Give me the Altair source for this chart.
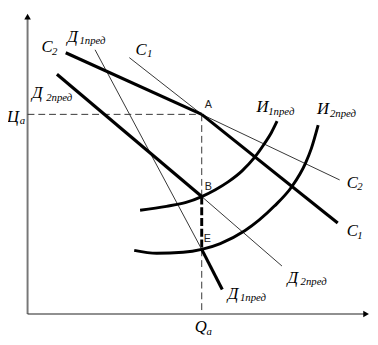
import altair as alt
import pandas as pd

# Schematic coordinates (origin at the axes' corner)
Q_A = 178
P_A, P_B, P_E = 204, 120, 66

# line segments: name -> (q values, p values)
thick_segments = {
    "C2_upper": ([39, 178], [267, 204]),
    "C1_lower": ([178, 317], [204, 93]),
    "D2_upper": ([30, 178], [245, 120]),
    "D1_lower": ([178, 199], [66, 25]),
}
thin_segments = {
    "C2_lower": ([178, 319], [204, 137]),
    "C1_upper": ([104, 178], [262, 204]),
    "D2_lower": ([178, 260], [120, 49]),
    "D1_upper": ([69, 178], [270, 66]),
}
I1_Q = [115, 142, 162, 178, 192, 205, 219, 232, 242, 249, 255]
I1_P = [106, 110, 114, 120, 127, 135, 146, 160, 174, 185, 197]
I2_Q = [109, 132, 159, 178, 197, 222, 252, 270, 284, 290, 297]
I2_P = [65, 62, 63, 66, 72, 85, 110, 130, 154, 169, 193]

AXIS_Q_END = 349
AXIS_P_END = 309

main_text = ["C", "Д", "C", "Д", "Ц", "И", "И", "C", "C", "Д", "Д", "Q"]
main_q = [20, 46, 116, 10, -15, 240, 302, 332, 332, 271, 210, 177]
main_p = [273, 283, 270, 226, 201, 211, 209, 134, 85, 37, 20, -13]

sub_text = ["2", "1пред", "1", "2пред", "a", "1пред", "2пред", "2", "1", "2пред", "1пред", "a"]
sub_q = [25, 53, 122, 19, -8, 246, 309, 337, 337, 279, 217, 183]
sub_p = [268, 279, 266, 221, 197, 206, 204, 130, 80, 33, 16, -18]

pt_text = ["A", "B", "E"]
pt_q = [181, 181, 180]
pt_p = [214, 130, 77]


def seg_frame(segs):
    rows = []
    for name, (qs, ps) in segs.items():
        for i, (q, p) in enumerate(zip(qs, ps)):
            rows.append({"seg": name, "o": i, "q": q, "p": p})
    return pd.DataFrame(rows)


xs = alt.Scale(domain=[-20, 350], nice=False, zero=False)
ys = alt.Scale(domain=[-28, 309], nice=False, zero=False)
X = lambda f="q": alt.X(f"{f}:Q", scale=xs, axis=None)
Y = lambda f="p": alt.Y(f"{f}:Q", scale=ys, axis=None)

thick = alt.Chart(seg_frame(thick_segments)).mark_line(
    color="black", strokeWidth=3.2, strokeCap="butt"
).encode(x=X(), y=Y(), detail="seg:N", order="o:Q")

thin = alt.Chart(seg_frame(thin_segments)).mark_line(
    color="#333333", strokeWidth=1
).encode(x=X(), y=Y(), detail="seg:N", order="o:Q")

curves_df = pd.concat([
    pd.DataFrame({"seg": "I1", "q": I1_Q, "p": I1_P}),
    pd.DataFrame({"seg": "I2", "q": I2_Q, "p": I2_P}),
])
curves = alt.Chart(curves_df).mark_line(
    color="black", strokeWidth=3, interpolate="monotone"
).encode(x=X(), y=Y(), detail="seg:N")

# axes
yaxis = alt.Chart(pd.DataFrame({"q": [0], "p": [0], "p2": [AXIS_P_END - 6]})).mark_rule(
    color="#777777", strokeWidth=2
).encode(x=X(), y=Y(), y2="p2:Q")
xaxis = alt.Chart(pd.DataFrame({"q": [0], "q2": [AXIS_Q_END - 4], "p": [0]})).mark_rule(
    color="#222222", strokeWidth=1.2
).encode(x=X(), x2="q2:Q", y=Y())
yarrow = alt.Chart(pd.DataFrame({"q": [0], "p": [AXIS_P_END - 5]})).mark_point(
    shape="triangle-up", filled=True, color="black", size=45, opacity=1
).encode(x=X(), y=Y())
xarrow = alt.Chart(pd.DataFrame({"q": [AXIS_Q_END - 3], "p": [0]})).mark_point(
    shape="triangle-right", filled=True, color="black", size=45, opacity=1
).encode(x=X(), y=Y())

# dashed guides
hdash = alt.Chart(pd.DataFrame({"q": [0], "q2": [Q_A], "p": [P_A]})).mark_rule(
    color="#333333", strokeWidth=1, strokeDash=[7, 4]
).encode(x=X(), x2="q2:Q", y=Y())
vdash_thin = alt.Chart(pd.DataFrame({"q": [Q_A, Q_A], "p": [P_A, P_E], "p2": [P_B, 0]})).mark_rule(
    color="#333333", strokeWidth=1, strokeDash=[7, 4]
).encode(x=X(), y=Y(), y2="p2:Q")
vdash_thick = alt.Chart(pd.DataFrame({"q": [Q_A], "p": [P_B], "p2": [P_E]})).mark_rule(
    color="black", strokeWidth=3, strokeDash=[8, 3]
).encode(x=X(), y=Y(), y2="p2:Q")

main_lbl = alt.Chart(pd.DataFrame({"t": main_text, "q": main_q, "p": main_p})).mark_text(
    font="Liberation Serif", fontStyle="italic", fontSize=17, align="center",
    baseline="middle", color="black"
).encode(x=X(), y=Y(), text="t:N")
sub_lbl = alt.Chart(pd.DataFrame({"t": sub_text, "q": sub_q, "p": sub_p})).mark_text(
    font="Liberation Serif", fontStyle="italic", fontSize=11, align="left",
    baseline="middle", color="black"
).encode(x=X(), y=Y(), text="t:N")
pt_lbl = alt.Chart(pd.DataFrame({"t": pt_text, "q": pt_q, "p": pt_p})).mark_text(
    font="Liberation Sans", fontSize=11, align="left", baseline="middle", color="#222222"
).encode(x=X(), y=Y(), text="t:N")

chart = alt.layer(
    yaxis, xaxis, yarrow, xarrow, hdash, vdash_thin, vdash_thick,
    thin, thick, curves, main_lbl, sub_lbl, pt_lbl
).properties(
    width=370, height=337, padding=0, autosize=alt.AutoSizeParams(type="none")
).configure_view(stroke=None)

chart.save("out.html", embed_options={"renderer": "svg", "actions": False})
